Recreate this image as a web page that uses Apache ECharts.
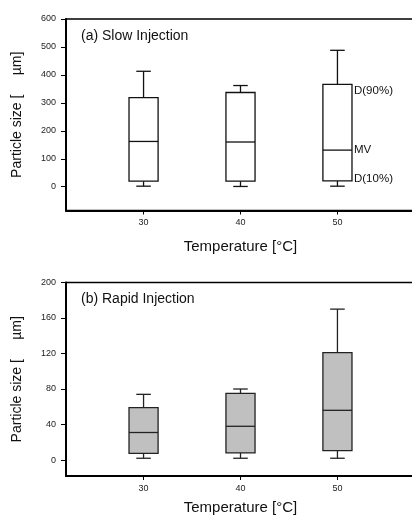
<!DOCTYPE html>
<html>
<head>
<meta charset="utf-8">
<script src="https://cdn.jsdelivr.net/npm/echarts@6/dist/echarts.min.js"></script>
<style>html,body{margin:0;padding:0;background:#fff}#c{width:412px;height:519px}</style>
</head>
<body>
<div id="c"></div>
<script>
// ---- data ----
const temperatures = [30, 40, 50];
// Slow injection: min, D(10%), MV, D(90%), max
const slowMin = [2, 1, 2];
const slowD10 = [20, 20, 21];
const slowMV  = [162, 160, 131];
const slowD90 = [319, 337, 366];
const slowMax = [413, 362, 488];
// Rapid injection
const rapidMin = [2, 2, 2];
const rapidD10 = [7.5, 8, 10.5];
const rapidMV  = [31, 38, 56];
const rapidD90 = [59, 75, 121];
const rapidMax = [74, 80, 170];

const slowTicks  = [0, 100, 200, 300, 400, 500, 600];
const rapidTicks = [0, 40, 80, 120, 160, 200];
const tempTicks  = [30, 40, 50];
const annotationLabels = ['D(90%)', 'MV', 'D(10%)'];

function rows(mn, d10, mv, d90, mx) {
  return temperatures.map((t, i) => [t, mn[i], d10[i], mv[i], d90[i], mx[i]]);
}

const FONT = 'Liberation Sans, Arial, sans-serif';

function boxRenderer(fill, stroke) {
  return function (params, api) {
    const x = api.value(0);
    const pMin = api.coord([x, api.value(1)]);
    const pD10 = api.coord([x, api.value(2)]);
    const pMV  = api.coord([x, api.value(3)]);
    const pD90 = api.coord([x, api.value(4)]);
    const pMax = api.coord([x, api.value(5)]);
    const halfBox = api.size([3, 0])[0] / 2;
    const halfCap = api.size([1.5, 0])[0] / 2;
    const cx = pMV[0];
    const ls = { stroke: stroke, lineWidth: 1.3 };
    return {
      type: 'group',
      children: [
        { type: 'line', shape: { x1: cx, y1: pD90[1], x2: cx, y2: pMax[1] }, style: ls },
        { type: 'line', shape: { x1: cx - halfCap, y1: pMax[1], x2: cx + halfCap, y2: pMax[1] }, style: ls },
        { type: 'line', shape: { x1: cx, y1: pD10[1], x2: cx, y2: pMin[1] }, style: ls },
        { type: 'line', shape: { x1: cx - halfCap, y1: pMin[1], x2: cx + halfCap, y2: pMin[1] }, style: ls },
        { type: 'rect', shape: { x: cx - halfBox, y: pD90[1], width: halfBox * 2, height: pD10[1] - pD90[1] },
          style: { fill: fill, stroke: stroke, lineWidth: 1.3 } },
        { type: 'line', shape: { x1: cx - halfBox, y1: pMV[1], x2: cx + halfBox, y2: pMV[1] }, style: ls }
      ]
    };
  };
}

const last = temperatures.length - 1;
const annotationData = [
  [temperatures[last], slowD90[last], 0],
  [temperatures[last], slowMV[last], 1],
  [temperatures[last], slowD10[last], 2]
];
const annotOffsets = [6, 0, -2];

function annotRenderer(params, api) {
  const x = api.value(0);
  const p = api.coord([x, api.value(1)]);
  const idx = api.value(2);
  const halfBox = api.size([3, 0])[0] / 2;
  return {
    type: 'text',
    x: p[0] + halfBox + 2,
    y: p[1] + annotOffsets[idx],
    style: { text: annotationLabels[idx], fill: '#111', font: '11.5px ' + FONT,
             textAlign: 'left', textVerticalAlign: 'middle' }
  };
}

function xAxisCfg(gridIndex, gap) {
  return {
    type: 'value', gridIndex: gridIndex, min: 22, max: 58,
    name: 'Temperature [°C]', nameLocation: 'middle', nameGap: gap,
    nameTextStyle: { fontFamily: FONT, fontSize: 15, color: '#111' },
    axisLine: { show: true, onZero: false, lineStyle: { color: '#000', width: 2 } },
    axisTick: { show: true, length: 4, customValues: tempTicks, lineStyle: { color: '#000' } },
    axisLabel: { customValues: tempTicks, margin: 8, fontFamily: FONT, fontSize: 9, color: '#222' },
    splitLine: { show: false }
  };
}
function yAxisCfg(gridIndex, min, max, ticks) {
  return {
    type: 'value', gridIndex: gridIndex, min: min, max: max,
    name: 'Particle size [     µm]', nameLocation: 'middle', nameGap: 42,
    nameTextStyle: { fontFamily: FONT, fontSize: 14, color: '#111' },
    axisLine: { show: true, onZero: false, lineStyle: { color: '#000', width: 2 } },
    axisTick: { show: true, length: 5, customValues: ticks, lineStyle: { color: '#000' } },
    axisLabel: { customValues: ticks, margin: 10, fontFamily: FONT, fontSize: 9, color: '#222' },
    splitLine: { show: false }
  };
}

const chart = echarts.init(document.getElementById('c'), null, { renderer: 'canvas' });
chart.setOption({
  animation: false,
  backgroundColor: '#fff',
  title: [
    { text: '(a) Slow Injection', left: 76, top: 24, textStyle: { fontFamily: FONT, fontSize: 14, fontWeight: 'normal', color: '#111' } },
    { text: '(b) Rapid Injection', left: 76, top: 287, textStyle: { fontFamily: FONT, fontSize: 14, fontWeight: 'normal', color: '#111' } }
  ],
  grid: [
    { left: 66, top: 19, width: 349, height: 191.5, show: true, borderColor: '#000', borderWidth: 1.5, outerBoundsMode: 'none', containLabel: false },
    { left: 66, top: 282.5, width: 349, height: 193.5, show: true, borderColor: '#000', borderWidth: 1.5, outerBoundsMode: 'none', containLabel: false }
  ],
  xAxis: [xAxisCfg(0, 29), xAxisCfg(1, 24)],
  yAxis: [yAxisCfg(0, -85, 600, slowTicks), yAxisCfg(1, -18, 200, rapidTicks)],
  series: [
    { type: 'custom', xAxisIndex: 0, yAxisIndex: 0, renderItem: boxRenderer('#fff', '#111'),
      encode: { x: 0, y: [1, 2, 3, 4, 5] }, data: rows(slowMin, slowD10, slowMV, slowD90, slowMax), clip: false },
    { type: 'custom', xAxisIndex: 0, yAxisIndex: 0, renderItem: annotRenderer,
      encode: { x: 0, y: 1 }, data: annotationData, clip: false },
    { type: 'custom', xAxisIndex: 1, yAxisIndex: 1, renderItem: boxRenderer('#c0c0c0', '#222'),
      encode: { x: 0, y: [1, 2, 3, 4, 5] }, data: rows(rapidMin, rapidD10, rapidMV, rapidD90, rapidMax), clip: false }
  ]
});
</script>
</body>
</html>
